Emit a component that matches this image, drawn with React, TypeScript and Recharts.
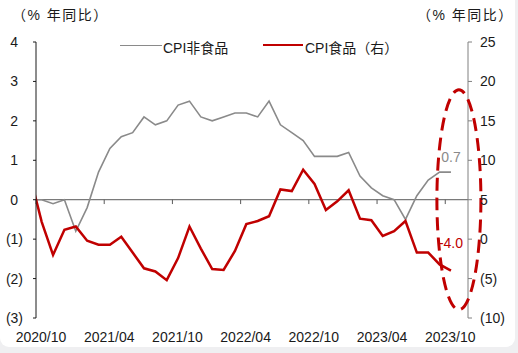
import { ComposedChart, Line, XAxis, YAxis, ReferenceLine, ReferenceDot } from 'recharts';

// monthly data, 2020/09 .. 2023/10 (first month sits just left of the axis)
const months = [
  '2020/09', '2020/10', '2020/11', '2020/12',
  '2021/01', '2021/02', '2021/03', '2021/04', '2021/05', '2021/06',
  '2021/07', '2021/08', '2021/09', '2021/10', '2021/11', '2021/12',
  '2022/01', '2022/02', '2022/03', '2022/04', '2022/05', '2022/06',
  '2022/07', '2022/08', '2022/09', '2022/10', '2022/11', '2022/12',
  '2023/01', '2023/02', '2023/03', '2023/04', '2023/05', '2023/06',
  '2023/07', '2023/08', '2023/09', '2023/10',
];

// CPI non-food, % yoy (left axis)
const nonFood = [
  0.0, 0.0, -0.1, 0.0,
  -0.8, -0.2, 0.7, 1.3, 1.6, 1.7, 2.1, 1.9, 2.0, 2.4, 2.5, 2.1,
  2.0, 2.1, 2.2, 2.2, 2.1, 2.5, 1.9, 1.7, 1.5, 1.1, 1.1, 1.1,
  1.2, 0.6, 0.3, 0.1, 0.0, -0.5, 0.1, 0.5, 0.7, 0.7,
];

// CPI food, % yoy (right axis)
const food = [
  7.9, 2.2, -2.0, 1.2,
  1.6, -0.2, -0.7, -0.7, 0.3, -1.7, -3.7, -4.1, -5.2, -2.4, 1.6, -1.2,
  -3.8, -3.9, -1.5, 1.9, 2.3, 2.9, 6.3, 6.1, 8.8, 7.0, 3.7, 4.8,
  6.2, 2.6, 2.4, 0.4, 1.0, 2.3, -1.7, -1.7, -3.2, -4.0,
];

const xTicks = [0, 6, 12, 18, 24, 30, 36];
const xTickLabels = ['2020/10', '2021/04', '2021/10', '2022/04', '2022/10', '2023/04', '2023/10'];
const leftTicks = [-3, -2, -1, 0, 1, 2, 3, 4];
const rightTicks = [-10, -5, 0, 5, 10, 15, 20, 25];

const GRAY = '#8a8a8a';
const RED = '#c00000';
const TEXT = '#1a1a1a';
const FONT = '"Liberation Sans", Arial, "Noto Sans CJK SC", sans-serif';

// points sit mid-month; the 2020/10 tick is the start of that month
const data = months.map((m, i) => ({
  month: m,
  x: i - 0.5,
  nonFood: nonFood[i],
  food: food[i],
}));

const fmt = (v: number) => (v < 0 ? `(${-v})` : `${v}`);

const LeftTick = (props: any) => {
  const { x, y, payload } = props;
  const v = payload.value;
  return (
    <text x={x} y={y} dx={v < 0 ? 0 : -5} dy={5} textAnchor="end" fontSize={14} fill={TEXT} fontFamily={FONT}>
      {fmt(v)}
    </text>
  );
};

const RightTick = (props: any) => {
  const { x, y, payload } = props;
  return (
    <text x={x} y={y} dy={5} textAnchor="start" fontSize={14} fill={TEXT} fontFamily={FONT}>
      {fmt(payload.value)}
    </text>
  );
};

const BottomTick = (props: any) => {
  const { x, y, payload } = props;
  const idx = xTicks.indexOf(payload.value);
  return (
    <text x={x} y={y} dx={5} dy={10} textAnchor="middle" fontSize={14} fill={TEXT} fontFamily={FONT}>
      {xTickLabels[idx]}
    </text>
  );
};

// dashed highlight ring round the latest readings
const Ellipse = (props: any) => (
  <ellipse
    cx={props.cx}
    cy={props.cy}
    rx={22}
    ry={110}
    fill="none"
    stroke={RED}
    strokeWidth={3}
    strokeDasharray="13 7"
  />
);

const unitStyle = { position: 'absolute', top: 4, fontSize: 14, letterSpacing: 1.5, whiteSpace: 'nowrap' } as const;

export default function App() {
  return (
    <div style={{ position: 'absolute', left: 0, top: 0, width: 518, height: 353, background: '#efeff1', fontFamily: FONT, color: TEXT }}>
      <div style={{ position: 'absolute', left: 0, top: -8, width: 515, height: 355, background: '#fff', borderRadius: 9 }} />
      <div style={{ ...unitStyle, left: 12 }}>（% 年同比）</div>
      <div style={{ ...unitStyle, left: 417 }}>（% 年同比）</div>
      {/* legend */}
      <div style={{ position: 'absolute', left: 120, top: 45, width: 42, borderTop: `1.5px solid ${GRAY}` }} />
      <div style={{ position: 'absolute', left: 163, top: 37, fontSize: 14, whiteSpace: 'nowrap' }}>CPI非食品</div>
      <div style={{ position: 'absolute', left: 263, top: 44, width: 40, borderTop: `2.5px solid ${RED}` }} />
      <div style={{ position: 'absolute', left: 305, top: 37, fontSize: 14, whiteSpace: 'nowrap' }}>CPI食品（右）</div>
      <div style={{ position: 'absolute', left: 0, top: 0 }}>
        <ComposedChart width={518} height={353} data={data} margin={{ top: 42, right: 0, bottom: 0, left: 0 }}>
          <XAxis
            dataKey="x"
            type="number"
            domain={[0, 38]}
            allowDataOverflow
            ticks={xTicks}
            interval={0}
            axisLine={false}
            tickLine={false}
            tickSize={6}
            tickMargin={8}
            height={35}
            tick={<BottomTick />}
          />
          <YAxis
            yAxisId="left"
            orientation="left"
            domain={[-3, 4]}
            ticks={leftTicks}
            interval={0}
            width={36}
            axisLine={{ stroke: TEXT }}
            tickLine={{ stroke: TEXT }}
            tickSize={3}
            tickMargin={10}
            tick={<LeftTick />}
          />
          <YAxis
            yAxisId="right"
            orientation="right"
            domain={[-10, 25]}
            ticks={rightTicks}
            interval={0}
            width={50}
            axisLine={{ stroke: '#808080' }}
            tickLine={{ stroke: '#808080' }}
            tickSize={4}
            tickMargin={8}
            tick={<RightTick />}
          />
          <ReferenceLine yAxisId="left" y={0} stroke="#595959" strokeWidth={1} />
          {xTicks.map((t) => (
            <ReferenceLine
              key={t}
              yAxisId="left"
              segment={[{ x: t, y: 0 }, { x: t, y: -0.11 }]}
              stroke="#595959"
            />
          ))}
          <Line
            yAxisId="left"
            type="linear"
            dataKey="nonFood"
            stroke={GRAY}
            strokeWidth={1.6}
            dot={false}
            activeDot={false}
            isAnimationActive={false}
          />
          <Line
            yAxisId="right"
            type="linear"
            dataKey="food"
            stroke={RED}
            strokeWidth={2.5}
            dot={false}
            activeDot={false}
            isAnimationActive={false}
          />
          <ReferenceDot
            yAxisId="left"
            x={36.5}
            y={0.7}
            r={0}
            fill="none"
            stroke="none"
            label={{ value: '0.7', position: 'top', offset: 10, fill: GRAY, fontSize: 14, fontFamily: FONT }}
          />
          <ReferenceDot
            yAxisId="right"
            x={36.5}
            y={-4.0}
            r={0}
            fill="none"
            stroke="none"
            label={{ value: '-4.0', position: 'top', offset: 23, fill: RED, fontSize: 14, fontFamily: FONT }}
          />
          <ReferenceDot yAxisId="left" x={37.2} y={0} r={1} shape={<Ellipse />} />
        </ComposedChart>
      </div>
    </div>
  );
}
